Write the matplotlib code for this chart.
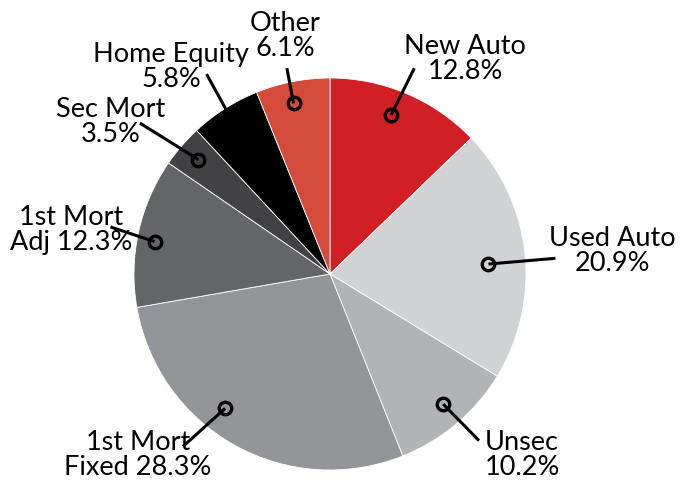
import numpy as np
import matplotlib
matplotlib.use("Agg")
import matplotlib.pyplot as plt

# loan mix by category, clockwise from 12 o'clock
labels = ["New Auto", "Used Auto", "Unsec", "1st Mort\nFixed", "1st Mort\nAdj",
          "Sec Mort", "Home Equity", "Other"]
shares = [12.8, 20.9, 10.2, 28.3, 12.3, 3.5, 5.8, 6.1]
colors = ["#d11f26", "#d1d2d4", "#b1b3b5", "#949598", "#646567",
          "#424143", "#000000", "#d54b3a"]

# where each label sits and where its leader line ends (pie radius = 1)
text_pos = [(0.69, 1.10), (1.44, 0.12), (0.98, -0.92), (-0.98, -0.92),
            (-1.32, 0.23), (-1.12, 0.78), (-0.81, 1.06), (-0.23, 1.22)]
line_end = [(0.43, 1.05), (1.15, 0.08), (0.76, -0.85), (-0.75, -0.88),
            (-1.12, 0.24), (-0.97, 0.77), (-0.63, 1.02), (-0.22, 1.05)]
# marker nudges off the wedge middle: angle (deg) and radius
dot_shift = [2.0, -2.7, 0.7, -9.0, 1.6, -0.5, 0.0, 0.7]
dot_r = [0.87, 0.81, 0.88, 0.87, 0.91, 0.89, 0.87, 0.89]
# two-line labels put the value after the second line
joined = [False, False, False, True, True, False, False, False]

plt.rcParams['font.family'] = ['Lato', 'DejaVu Sans']

fig = plt.figure(figsize=(6.97, 4.85), dpi=100)
ax = fig.add_axes([0, 0, 1, 1])
ax.axis('off')

wedges, _ = ax.pie(shares, colors=colors, startangle=90, counterclock=False,
                   radius=1.0, center=(0, 0),
                   wedgeprops=dict(linewidth=0.6, edgecolor='white'))

ax.set_xlim(-330 / 196, 367 / 196)
ax.set_ylim(-210 / 196, 275 / 196)
ax.set_aspect('equal')

cum = np.cumsum([0] + shares)
for i, lab in enumerate(labels):
    mid = 90 - (cum[i] + shares[i] / 2) * 3.6 + dot_shift[i]
    r = dot_r[i]
    cx, cy = r * np.cos(np.radians(mid)), r * np.sin(np.radians(mid))
    ex, ey = line_end[i]
    ax.plot([cx, ex], [cy, ey], color='black', lw=2.2, zorder=3,
            solid_capstyle='butt')
    ax.plot(cx, cy, 'o', ms=9, mfc='none', mec='black', mew=2.4, zorder=4)
    if joined[i]:
        txt = f"{lab} {shares[i]:.1f}%"
    else:
        txt = f"{lab}\n{shares[i]:.1f}%"
    tx, ty = text_pos[i]
    ax.text(tx, ty, txt, ha='center', va='center', fontsize=19.5,
            linespacing=1.0, color='black', zorder=5)

fig.savefig("out.png", dpi=100)
